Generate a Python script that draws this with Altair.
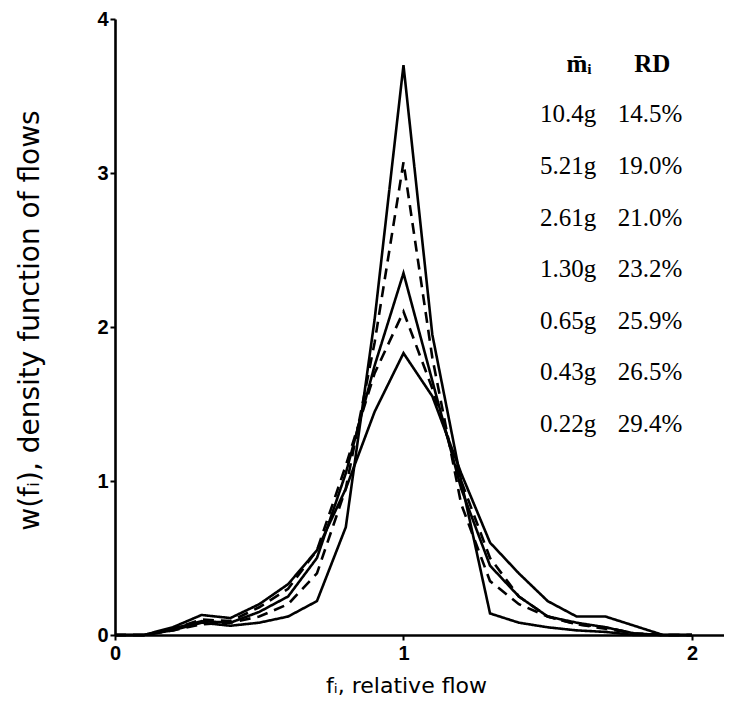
import altair as alt
import pandas as pd

# relative flow grid (f_i)
flow = [0.0, 0.1, 0.2, 0.3, 0.4, 0.5, 0.6, 0.7, 0.8, 0.9, 1.0,
        1.1, 1.2, 1.3, 1.4, 1.5, 1.6, 1.7, 1.8, 1.9, 2.0]

# density curves
w_a = [0, 0, 0.03, 0.08, 0.06, 0.08, 0.12, 0.22, 0.70, 2.05, 3.70,
       1.95, 1.00, 0.14, 0.08, 0.05, 0.03, 0.02, 0.0, 0, 0]
w_b = [0, 0, 0.03, 0.07, 0.08, 0.12, 0.20, 0.40, 0.95, 1.90, 3.07,
       1.80, 0.85, 0.35, 0.20, 0.12, 0.07, 0.04, 0.01, 0, 0]
w_c = [0, 0, 0.04, 0.09, 0.08, 0.15, 0.25, 0.50, 1.05, 1.75, 2.35,
       1.65, 0.95, 0.45, 0.25, 0.12, 0.08, 0.05, 0.01, 0, 0]
w_d = [0, 0, 0.04, 0.10, 0.09, 0.18, 0.30, 0.55, 1.10, 1.70, 2.10,
       1.60, 1.00, 0.50, 0.25, 0.12, 0.07, 0.05, 0.01, 0, 0]
w_e = [0, 0, 0.05, 0.13, 0.11, 0.20, 0.33, 0.55, 0.95, 1.45, 1.83,
       1.55, 1.05, 0.60, 0.40, 0.22, 0.12, 0.12, 0.06, 0, 0]

curve_names = ["A", "B", "C", "D", "E"]
curve_values = [w_a, w_b, w_c, w_d, w_e]
curve_styles = ["solid", "dashed", "solid", "dashed", "solid"]

# axis tick values
x_ticks = [0.0, 1.0, 2.0]
y_ticks = [0, 1, 2, 3, 4]

# legend table text
masses = ["10.4g", "5.21g", "2.61g", "1.30g", "0.65g", "0.43g", "0.22g"]
rds = ["14.5%", "19.0%", "21.0%", "23.2%", "25.9%", "26.5%", "29.4%"]

rows = []
for name, vals, style in zip(curve_names, curve_values, curve_styles):
    for f, w in zip(flow, vals):
        rows.append({"series": name, "f": f, "w": w, "style": style})
df = pd.DataFrame(rows)

leg = pd.DataFrame({
    "mass": masses,
    "rd": rds,
    "y": [3.38 - 0.335 * i for i in range(len(masses))],
    "xm": [1.473] * len(masses),
    "xr": [1.743] * len(masses),
})
head = pd.DataFrame({"label": ["m\u0304\u1d62", "RD"], "x": [1.565, 1.80], "y": [3.71, 3.71]})

x_scale = alt.Scale(domain=[0, 2.111], nice=False, zero=False)
y_scale = alt.Scale(domain=[0, 4], nice=False)

x_axis = alt.Axis(values=x_ticks, labelExpr="format(datum.value, 'd')",
                  title="f\u1d62, relative flow",
                  labelOverlap=False, labelFlush=False, labelPadding=3,
                  titleX=291, titleY=50, titleBaseline="middle",
                  titleFont="DejaVu Sans", titleFontSize=22)
y_axis = alt.Axis(values=y_ticks, format="d",
                  title="w(f\u1d62), density function of flows",
                  labelOverlap=False, labelPadding=2,
                  titleX=-85, titleY=301, titleAngle=270, titleBaseline="middle",
                  titleFont="DejaVu Sans", titleFontSize=28)

lines = alt.Chart(df).mark_line(color="black", strokeWidth=2.6).encode(
    x=alt.X("f:Q", scale=x_scale, axis=x_axis),
    y=alt.Y("w:Q", scale=y_scale, axis=y_axis),
    detail="series:N",
    strokeDash=alt.StrokeDash("style:N",
                              scale=alt.Scale(domain=["solid", "dashed"], range=[[1, 0], [11, 7]]),
                              legend=None),
)

txt_font = "Liberation Serif"
mass_txt = alt.Chart(leg).mark_text(align="left", baseline="middle", font=txt_font,
                                     fontSize=25, color="black").encode(
    x=alt.X("xm:Q", scale=x_scale, axis=x_axis),
    y=alt.Y("y:Q", scale=y_scale, axis=y_axis),
    text="mass:N",
)
rd_txt = alt.Chart(leg).mark_text(align="left", baseline="middle", font=txt_font,
                                   fontSize=25, color="black").encode(
    x=alt.X("xr:Q", scale=x_scale, axis=x_axis),
    y=alt.Y("y:Q", scale=y_scale, axis=y_axis),
    text="rd:N",
)
head_txt = alt.Chart(head).mark_text(align="left", baseline="middle", font=txt_font,
                                      fontSize=25, fontWeight="bold", color="black").encode(
    x=alt.X("x:Q", scale=x_scale, axis=x_axis),
    y=alt.Y("y:Q", scale=y_scale, axis=y_axis),
    text="label:N",
)

chart = alt.layer(lines, mass_txt, rd_txt, head_txt).properties(
    width=609, height=616,
    autosize=alt.AutoSizeParams(type="none"),
    padding={"left": 107, "top": 11, "right": 0, "bottom": 69},
).configure_view(stroke=None).configure_axis(
    grid=False,
    domainColor="black", domainWidth=2.6,
    tickColor="black", tickWidth=2, tickSize=5,
    labelFont="Liberation Sans", labelFontWeight="bold", labelFontSize=20, labelColor="black",
    titleFontWeight="normal", titleColor="black",
)

chart.save("out.html", embed_options={"renderer": "svg", "actions": False})
